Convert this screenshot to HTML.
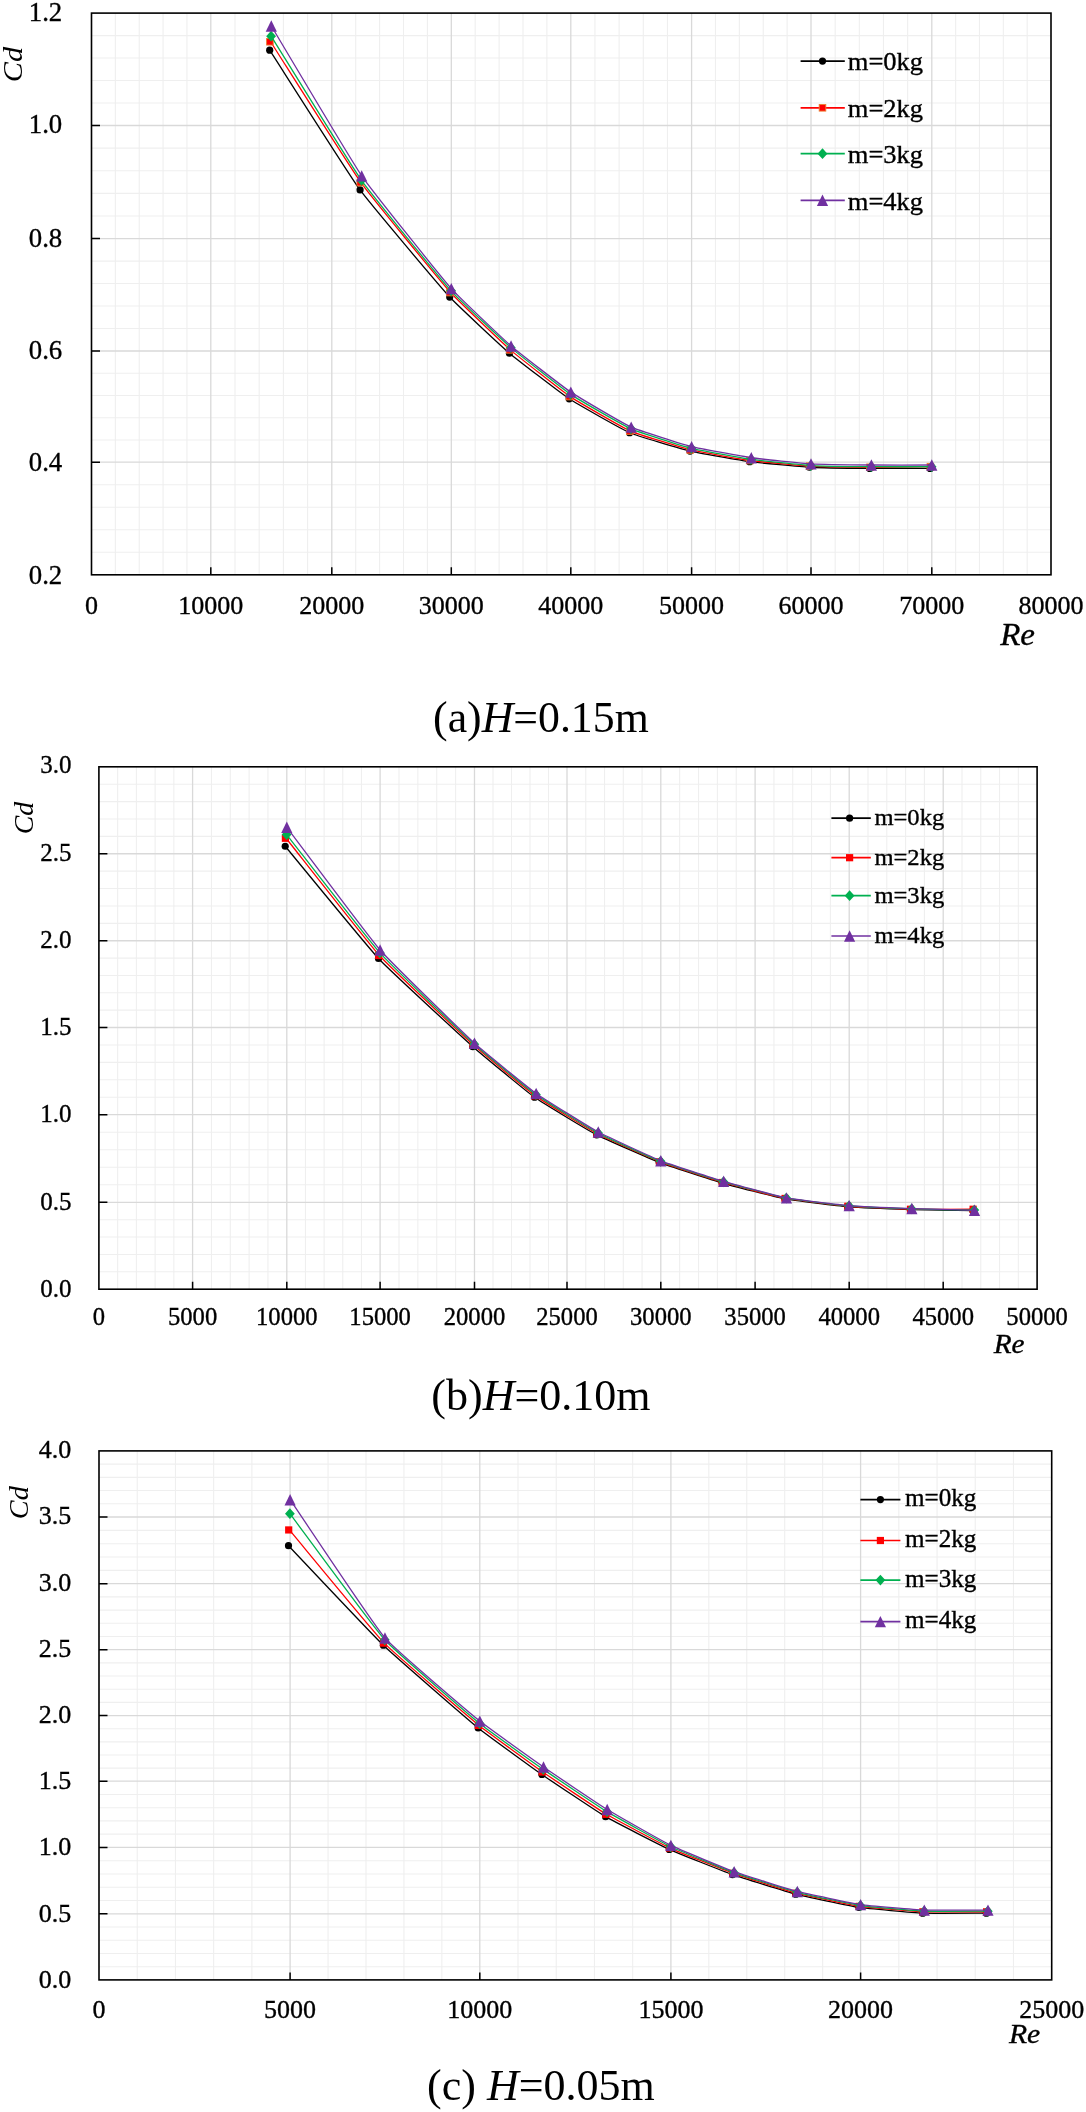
<!DOCTYPE html>
<html><head><meta charset="utf-8"><title>Cd vs Re</title>
<style>
html,body{margin:0;padding:0;background:#fff;}
body{width:1086px;height:2112px;overflow:hidden;}
svg{display:block;font-family:"Liberation Serif", serif;will-change:transform;}
</style></head><body>
<svg width="1086" height="2112" viewBox="0 0 1086 2112" fill="#000">
<style>text{stroke:#000;stroke-width:0.35px;}text.cap{stroke:none;}</style>
<rect width="1086" height="2112" fill="#fff"/>
<path d="M115.36 13.1V574.8M139.22 13.1V574.8M163.08 13.1V574.8M186.94 13.1V574.8M235 13.1V574.8M259.2 13.1V574.8M283.4 13.1V574.8M307.6 13.1V574.8M355.7 13.1V574.8M379.6 13.1V574.8M403.5 13.1V574.8M427.4 13.1V574.8M475.2 13.1V574.8M499.1 13.1V574.8M523 13.1V574.8M546.9 13.1V574.8M594.96 13.1V574.8M619.12 13.1V574.8M643.28 13.1V574.8M667.44 13.1V574.8M715.48 13.1V574.8M739.36 13.1V574.8M763.24 13.1V574.8M787.12 13.1V574.8M835.16 13.1V574.8M859.32 13.1V574.8M883.48 13.1V574.8M907.64 13.1V574.8M955.64 13.1V574.8M979.48 13.1V574.8M1003.32 13.1V574.8M1027.16 13.1V574.8M91.5 552.28H1051M91.5 529.76H1051M91.5 507.24H1051M91.5 484.72H1051M91.5 439.96H1051M91.5 417.72H1051M91.5 395.48H1051M91.5 373.24H1051M91.5 328.52H1051M91.5 306.04H1051M91.5 283.56H1051M91.5 261.08H1051M91.5 215.98H1051M91.5 193.36H1051M91.5 170.74H1051M91.5 148.12H1051M91.5 103.02H1051M91.5 80.54H1051M91.5 58.06H1051M91.5 35.58H1051" stroke="#EFEFEF" stroke-width="1.1" fill="none"/>
<path d="M210.8 13.1V574.8M331.8 13.1V574.8M451.3 13.1V574.8M570.8 13.1V574.8M691.6 13.1V574.8M811 13.1V574.8M931.8 13.1V574.8M91.5 462.2H1051M91.5 351H1051M91.5 238.6H1051M91.5 125.5H1051" stroke="#D9D9D9" stroke-width="1.3" fill="none"/>
<path d="M210.8 574.8V567.3M331.8 574.8V567.3M451.3 574.8V567.3M570.8 574.8V567.3M691.6 574.8V567.3M811 574.8V567.3M931.8 574.8V567.3M91.5 462.2H100M91.5 351H100M91.5 238.6H100M91.5 125.5H100" stroke="#000" stroke-width="1.5" fill="none"/>
<rect x="91.5" y="13.1" width="959.5" height="561.7" fill="none" stroke="#000" stroke-width="1.6"/>
<text x="62.27" y="583.81" font-size="26.8" text-anchor="end">0.2</text>
<text x="62.27" y="470.92" font-size="26.8" text-anchor="end">0.4</text>
<text x="62.27" y="359.43" font-size="26.8" text-anchor="end">0.6</text>
<text x="62.27" y="246.74" font-size="26.8" text-anchor="end">0.8</text>
<text x="62.27" y="133.35" font-size="26.8" text-anchor="end">1.0</text>
<text x="62.27" y="20.66" font-size="26.8" text-anchor="end">1.2</text>
<text x="91.5" y="613.7" font-size="26" text-anchor="middle">0</text>
<text x="210.8" y="613.7" font-size="26" text-anchor="middle">10000</text>
<text x="331.8" y="613.7" font-size="26" text-anchor="middle">20000</text>
<text x="451.3" y="613.7" font-size="26" text-anchor="middle">30000</text>
<text x="570.8" y="613.7" font-size="26" text-anchor="middle">40000</text>
<text x="691.6" y="613.7" font-size="26" text-anchor="middle">50000</text>
<text x="811" y="613.7" font-size="26" text-anchor="middle">60000</text>
<text x="931.8" y="613.7" font-size="26" text-anchor="middle">70000</text>
<text x="1051" y="613.7" font-size="26" text-anchor="middle">80000</text>
<text class="cap" transform="translate(22.32 64.52) rotate(-90) scale(1.07 1)" font-size="28.3" font-style="italic" text-anchor="middle">Cd</text>
<text transform="translate(1000.16 645) scale(1.08 1)" font-size="30.5" font-style="italic">Re</text>
<path d="M269.7 50.19C280.54 66.97 348.33 173.86 360.07 189.97C369.93 203.48 438.41 284.71 449.7 297.05C456.33 304.3 501.97 346.85 509.45 353.22C516.31 359.06 561.7 393.85 569.2 398.82C576.12 403.39 622.02 429.45 629.6 432.73C636.51 435.72 682.65 449.31 690 451.08C697.06 452.78 742.5 460.67 749.7 461.64C756.82 462.61 802.22 466.86 809.4 467.27C816.63 467.67 862.55 468.33 869.8 468.39C877.05 468.46 922.95 468.39 930.2 468.39" stroke="#000000" stroke-width="1.3" fill="none" stroke-linejoin="round"/>
<circle cx="269.7" cy="50.19" r="3.6" fill="#000"/>
<circle cx="360.07" cy="189.97" r="3.6" fill="#000"/>
<circle cx="449.7" cy="297.05" r="3.6" fill="#000"/>
<circle cx="509.45" cy="353.22" r="3.6" fill="#000"/>
<circle cx="569.2" cy="398.82" r="3.6" fill="#000"/>
<circle cx="629.6" cy="432.73" r="3.6" fill="#000"/>
<circle cx="690" cy="451.08" r="3.6" fill="#000"/>
<circle cx="749.7" cy="461.64" r="3.6" fill="#000"/>
<circle cx="809.4" cy="467.27" r="3.6" fill="#000"/>
<circle cx="869.8" cy="468.39" r="3.6" fill="#000"/>
<circle cx="930.2" cy="468.39" r="3.6" fill="#000"/>
<path d="M270.6 41.76C281.45 58.66 349.28 166.33 360.98 182.62C370.88 196.42 439.28 279.88 450.6 292.55C457.21 299.95 502.87 343.36 510.35 349.88C517.21 355.84 562.58 391.51 570.1 396.59C577 401.25 622.91 427.71 630.5 431.06C637.41 434.12 683.54 448.16 690.9 449.97C697.95 451.7 743.4 459.56 750.6 460.53C757.72 461.5 803.12 465.74 810.3 466.14C817.53 466.55 863.45 467.23 870.7 467.27C877.95 467.3 923.85 466.77 931.1 466.7" stroke="#FF0000" stroke-width="1.3" fill="none" stroke-linejoin="round"/>
<rect x="266.6" y="38.46" width="6.6" height="6.6" fill="#FF0000" stroke="#ED7D31" stroke-width="0.9"/>
<rect x="356.98" y="179.32" width="6.6" height="6.6" fill="#FF0000" stroke="#ED7D31" stroke-width="0.9"/>
<rect x="446.6" y="289.25" width="6.6" height="6.6" fill="#FF0000" stroke="#ED7D31" stroke-width="0.9"/>
<rect x="506.35" y="346.58" width="6.6" height="6.6" fill="#FF0000" stroke="#ED7D31" stroke-width="0.9"/>
<rect x="566.1" y="393.29" width="6.6" height="6.6" fill="#FF0000" stroke="#ED7D31" stroke-width="0.9"/>
<rect x="626.5" y="427.76" width="6.6" height="6.6" fill="#FF0000" stroke="#ED7D31" stroke-width="0.9"/>
<rect x="686.9" y="446.67" width="6.6" height="6.6" fill="#FF0000" stroke="#ED7D31" stroke-width="0.9"/>
<rect x="746.6" y="457.23" width="6.6" height="6.6" fill="#FF0000" stroke="#ED7D31" stroke-width="0.9"/>
<rect x="806.3" y="462.84" width="6.6" height="6.6" fill="#FF0000" stroke="#ED7D31" stroke-width="0.9"/>
<rect x="866.7" y="463.97" width="6.6" height="6.6" fill="#FF0000" stroke="#ED7D31" stroke-width="0.9"/>
<rect x="927.1" y="463.4" width="6.6" height="6.6" fill="#FF0000" stroke="#ED7D31" stroke-width="0.9"/>
<path d="M271.1 36.14C281.95 53.45 349.71 163.71 361.48 180.35C371.31 194.27 439.75 278.16 451.1 290.87C457.67 298.23 503.38 341.16 510.85 347.63C517.72 353.58 563.08 389.28 570.6 394.37C577.5 399.03 623.42 425.46 631 428.84C637.92 431.93 684.04 446.42 691.4 448.3C698.45 450.09 743.89 458.38 751.1 459.42C758.22 460.45 803.62 465.14 810.8 465.58C818.03 466.02 863.95 466.64 871.2 466.7C878.45 466.77 924.35 466.7 931.6 466.7" stroke="#00B050" stroke-width="1.3" fill="none" stroke-linejoin="round"/>
<path d="M271.1 30.74L276 36.14L271.1 41.54L266.2 36.14Z" fill="#00B050"/>
<path d="M361.48 174.95L366.38 180.35L361.48 185.75L356.58 180.35Z" fill="#00B050"/>
<path d="M451.1 285.47L456 290.87L451.1 296.27L446.2 290.87Z" fill="#00B050"/>
<path d="M510.85 342.23L515.75 347.63L510.85 353.03L505.95 347.63Z" fill="#00B050"/>
<path d="M570.6 388.97L575.5 394.37L570.6 399.77L565.7 394.37Z" fill="#00B050"/>
<path d="M631 423.44L635.9 428.84L631 434.24L626.1 428.84Z" fill="#00B050"/>
<path d="M691.4 442.9L696.3 448.3L691.4 453.7L686.5 448.3Z" fill="#00B050"/>
<path d="M751.1 454.02L756 459.42L751.1 464.82L746.2 459.42Z" fill="#00B050"/>
<path d="M810.8 460.18L815.7 465.58L810.8 470.98L805.9 465.58Z" fill="#00B050"/>
<path d="M871.2 461.3L876.1 466.7L871.2 472.1L866.3 466.7Z" fill="#00B050"/>
<path d="M931.6 461.3L936.5 466.7L931.6 472.1L926.7 466.7Z" fill="#00B050"/>
<path d="M271.3 26.03C282.14 44 349.83 158.55 361.68 175.83C371.43 190.06 439.92 275.66 451.3 288.62C457.84 296.07 503.55 339.45 511.05 345.94C517.89 351.87 563.31 387.08 570.8 392.14C577.73 396.83 623.61 423.75 631.2 427.17C638.1 430.29 684.24 444.76 691.6 446.63C698.65 448.43 744.09 456.71 751.3 457.75C758.42 458.78 803.82 463.45 811 463.89C818.23 464.33 864.15 464.95 871.4 465.01C878.65 465.08 924.55 465.01 931.8 465.01" stroke="#7030A0" stroke-width="1.3" fill="none" stroke-linejoin="round"/>
<path d="M271.3 20.33L276.9 31.73L265.7 31.73Z" fill="#7030A0"/>
<path d="M361.68 170.13L367.28 181.53L356.07 181.53Z" fill="#7030A0"/>
<path d="M451.3 282.92L456.9 294.32L445.7 294.32Z" fill="#7030A0"/>
<path d="M511.05 340.24L516.65 351.64L505.45 351.64Z" fill="#7030A0"/>
<path d="M570.8 386.44L576.4 397.84L565.2 397.84Z" fill="#7030A0"/>
<path d="M631.2 421.47L636.8 432.87L625.6 432.87Z" fill="#7030A0"/>
<path d="M691.6 440.93L697.2 452.33L686 452.33Z" fill="#7030A0"/>
<path d="M751.3 452.05L756.9 463.45L745.7 463.45Z" fill="#7030A0"/>
<path d="M811 458.19L816.6 469.59L805.4 469.59Z" fill="#7030A0"/>
<path d="M871.4 459.31L877 470.71L865.8 470.71Z" fill="#7030A0"/>
<path d="M931.8 459.31L937.4 470.71L926.2 470.71Z" fill="#7030A0"/>
<path d="M800.6 61.1H844.8" stroke="#000000" stroke-width="1.7"/>
<circle cx="822.5" cy="61.1" r="3.6" fill="#000"/>
<text transform="translate(847.77 70.3) scale(1.02 1)" font-size="26">m=0kg</text>
<path d="M800.6 107.8H844.8" stroke="#FF0000" stroke-width="1.7"/>
<rect x="819.2" y="104.5" width="6.6" height="6.6" fill="#FF0000" stroke="#ED7D31" stroke-width="0.9"/>
<text transform="translate(847.77 117) scale(1.02 1)" font-size="26">m=2kg</text>
<path d="M800.6 153.7H844.8" stroke="#00B050" stroke-width="1.7"/>
<path d="M822.5 148.3L827.4 153.7L822.5 159.1L817.6 153.7Z" fill="#00B050"/>
<text transform="translate(847.77 162.9) scale(1.02 1)" font-size="26">m=3kg</text>
<path d="M800.6 200.3H844.8" stroke="#7030A0" stroke-width="1.7"/>
<path d="M822.5 194.6L828.1 206L816.9 206Z" fill="#7030A0"/>
<text transform="translate(847.77 209.5) scale(1.02 1)" font-size="26">m=4kg</text>
<text class="cap" x="540.9" y="731.5" font-size="43.8" text-anchor="middle" xml:space="preserve">(a)<tspan font-style="italic">H</tspan>=0.15m</text>
<path d="M117.64 766.8V1289.2M136.38 766.8V1289.2M155.12 766.8V1289.2M173.86 766.8V1289.2M211.44 766.8V1289.2M230.28 766.8V1289.2M249.12 766.8V1289.2M267.96 766.8V1289.2M305.46 766.8V1289.2M324.12 766.8V1289.2M342.78 766.8V1289.2M361.44 766.8V1289.2M398.98 766.8V1289.2M417.86 766.8V1289.2M436.74 766.8V1289.2M455.62 766.8V1289.2M493 766.8V1289.2M511.5 766.8V1289.2M530 766.8V1289.2M548.5 766.8V1289.2M585.76 766.8V1289.2M604.52 766.8V1289.2M623.28 766.8V1289.2M642.04 766.8V1289.2M679.66 766.8V1289.2M698.52 766.8V1289.2M717.38 766.8V1289.2M736.24 766.8V1289.2M773.92 766.8V1289.2M792.74 766.8V1289.2M811.56 766.8V1289.2M830.38 766.8V1289.2M868 766.8V1289.2M886.8 766.8V1289.2M905.6 766.8V1289.2M924.4 766.8V1289.2M961.98 766.8V1289.2M980.76 766.8V1289.2M999.54 766.8V1289.2M1018.32 766.8V1289.2M98.9 1271.82H1037.1M98.9 1254.44H1037.1M98.9 1237.06H1037.1M98.9 1219.68H1037.1M98.9 1184.78H1037.1M98.9 1167.26H1037.1M98.9 1149.74H1037.1M98.9 1132.22H1037.1M98.9 1097.26H1037.1M98.9 1079.82H1037.1M98.9 1062.38H1037.1M98.9 1044.94H1037.1M98.9 1010.15H1037.1M98.9 992.8H1037.1M98.9 975.45H1037.1M98.9 958.1H1037.1M98.9 923.35H1037.1M98.9 905.95H1037.1M98.9 888.55H1037.1M98.9 871.15H1037.1M98.9 836.36H1037.1M98.9 818.97H1037.1M98.9 801.58H1037.1M98.9 784.19H1037.1" stroke="#EFEFEF" stroke-width="1.1" fill="none"/>
<path d="M192.6 766.8V1289.2M286.8 766.8V1289.2M380.1 766.8V1289.2M474.5 766.8V1289.2M567 766.8V1289.2M660.8 766.8V1289.2M755.1 766.8V1289.2M849.2 766.8V1289.2M943.2 766.8V1289.2M98.9 1202.3H1037.1M98.9 1114.7H1037.1M98.9 1027.5H1037.1M98.9 940.75H1037.1M98.9 853.75H1037.1" stroke="#D9D9D9" stroke-width="1.3" fill="none"/>
<path d="M192.6 1289.2V1281.7M286.8 1289.2V1281.7M380.1 1289.2V1281.7M474.5 1289.2V1281.7M567 1289.2V1281.7M660.8 1289.2V1281.7M755.1 1289.2V1281.7M849.2 1289.2V1281.7M943.2 1289.2V1281.7M98.9 1202.3H107.4M98.9 1114.7H107.4M98.9 1027.5H107.4M98.9 940.75H107.4M98.9 853.75H107.4" stroke="#000" stroke-width="1.5" fill="none"/>
<rect x="98.9" y="766.8" width="938.2" height="522.4" fill="none" stroke="#000" stroke-width="1.6"/>
<text transform="translate(71.6 1296.88) scale(0.98 1)" font-size="25.5" text-anchor="end">0.0</text>
<text transform="translate(71.6 1209.8) scale(0.98 1)" font-size="25.5" text-anchor="end">0.5</text>
<text transform="translate(71.6 1122.03) scale(0.98 1)" font-size="25.5" text-anchor="end">1.0</text>
<text transform="translate(71.6 1034.65) scale(0.98 1)" font-size="25.5" text-anchor="end">1.5</text>
<text transform="translate(71.6 947.73) scale(0.98 1)" font-size="25.5" text-anchor="end">2.0</text>
<text transform="translate(71.6 860.55) scale(0.98 1)" font-size="25.5" text-anchor="end">2.5</text>
<text transform="translate(71.6 773.43) scale(0.98 1)" font-size="25.5" text-anchor="end">3.0</text>
<text x="98.9" y="1324.5" font-size="24.6" text-anchor="middle">0</text>
<text x="192.6" y="1324.5" font-size="24.6" text-anchor="middle">5000</text>
<text x="286.8" y="1324.5" font-size="24.6" text-anchor="middle">10000</text>
<text x="380.1" y="1324.5" font-size="24.6" text-anchor="middle">15000</text>
<text x="474.5" y="1324.5" font-size="24.6" text-anchor="middle">20000</text>
<text x="567" y="1324.5" font-size="24.6" text-anchor="middle">25000</text>
<text x="660.8" y="1324.5" font-size="24.6" text-anchor="middle">30000</text>
<text x="755.1" y="1324.5" font-size="24.6" text-anchor="middle">35000</text>
<text x="849.2" y="1324.5" font-size="24.6" text-anchor="middle">40000</text>
<text x="943.2" y="1324.5" font-size="24.6" text-anchor="middle">45000</text>
<text x="1037.1" y="1324.5" font-size="24.6" text-anchor="middle">50000</text>
<text class="cap" transform="translate(32.94 818.15) rotate(-90) scale(1.05 1)" font-size="26.4" font-style="italic" text-anchor="middle">Cd</text>
<text transform="translate(993.65 1353.23) scale(1.1 1)" font-size="26.6" font-style="italic">Re</text>
<path d="M285.2 846.27C296.4 859.73 366.55 945.69 378.5 958.45C389.08 969.74 461.32 1036.38 472.9 1046.68C480.05 1053.04 526.79 1091.72 534.56 1097.26C541.64 1102.3 588.97 1130.82 596.67 1134.85C603.92 1138.63 651.56 1159.42 659.2 1162.35C666.6 1165.2 714.44 1180.82 722.06 1183.03C729.52 1185.19 777.25 1197.36 784.87 1198.8C792.31 1200.2 840.05 1205.99 847.6 1206.64C855.09 1207.29 902.74 1209.36 910.26 1209.6C917.77 1209.84 965.39 1210.52 972.91 1210.64" stroke="#000000" stroke-width="1.3" fill="none" stroke-linejoin="round"/>
<circle cx="285.2" cy="846.27" r="3.6" fill="#000"/>
<circle cx="378.5" cy="958.45" r="3.6" fill="#000"/>
<circle cx="472.9" cy="1046.68" r="3.6" fill="#000"/>
<circle cx="534.56" cy="1097.26" r="3.6" fill="#000"/>
<circle cx="596.67" cy="1134.85" r="3.6" fill="#000"/>
<circle cx="659.2" cy="1162.35" r="3.6" fill="#000"/>
<circle cx="722.06" cy="1183.03" r="3.6" fill="#000"/>
<circle cx="784.87" cy="1198.8" r="3.6" fill="#000"/>
<circle cx="847.6" cy="1206.64" r="3.6" fill="#000"/>
<circle cx="910.26" cy="1209.6" r="3.6" fill="#000"/>
<circle cx="972.91" cy="1210.64" r="3.6" fill="#000"/>
<path d="M286.1 838.27C297.3 852.34 367.35 942.21 379.4 955.5C389.88 967.05 462.18 1034.84 473.8 1045.29C480.91 1051.68 527.7 1090.3 535.46 1095.86C542.55 1100.95 589.86 1129.89 597.57 1133.97C604.82 1137.81 652.45 1158.87 660.1 1161.83C667.5 1164.69 715.34 1180.28 722.96 1182.5C730.42 1184.68 778.15 1197 785.77 1198.45C793.21 1199.86 840.95 1205.65 848.5 1206.3C855.99 1206.94 903.64 1209.07 911.16 1209.25C918.67 1209.43 966.29 1209.25 973.81 1209.25" stroke="#FF0000" stroke-width="1.3" fill="none" stroke-linejoin="round"/>
<rect x="281.8" y="834.67" width="7.2" height="7.2" fill="#FF0000"/>
<rect x="375.1" y="951.9" width="7.2" height="7.2" fill="#FF0000"/>
<rect x="469.5" y="1041.69" width="7.2" height="7.2" fill="#FF0000"/>
<rect x="531.16" y="1092.26" width="7.2" height="7.2" fill="#FF0000"/>
<rect x="593.27" y="1130.37" width="7.2" height="7.2" fill="#FF0000"/>
<rect x="655.8" y="1158.23" width="7.2" height="7.2" fill="#FF0000"/>
<rect x="718.66" y="1178.9" width="7.2" height="7.2" fill="#FF0000"/>
<rect x="781.47" y="1194.85" width="7.2" height="7.2" fill="#FF0000"/>
<rect x="844.2" y="1202.7" width="7.2" height="7.2" fill="#FF0000"/>
<rect x="906.86" y="1205.65" width="7.2" height="7.2" fill="#FF0000"/>
<rect x="969.51" y="1205.65" width="7.2" height="7.2" fill="#FF0000"/>
<path d="M286.6 834.62C297.8 848.81 367.87 939.46 379.9 952.89C390.39 964.61 462.64 1033.65 474.3 1044.24C481.37 1050.66 528.21 1089.08 535.96 1094.64C543.07 1099.75 590.36 1128.97 598.07 1133.1C605.32 1136.97 652.94 1158.33 660.6 1161.3C667.98 1164.17 715.85 1179.57 723.46 1181.8C730.93 1183.99 778.64 1196.63 786.27 1198.1C793.71 1199.53 841.45 1205.3 849 1205.95C856.49 1206.6 904.14 1208.65 911.66 1208.9C919.17 1209.15 966.79 1209.98 974.31 1210.12" stroke="#00B050" stroke-width="1.3" fill="none" stroke-linejoin="round"/>
<path d="M286.6 829.22L291.5 834.62L286.6 840.02L281.7 834.62Z" fill="#00B050"/>
<path d="M379.9 947.5L384.8 952.89L379.9 958.29L375 952.89Z" fill="#00B050"/>
<path d="M474.3 1038.84L479.2 1044.24L474.3 1049.64L469.4 1044.24Z" fill="#00B050"/>
<path d="M535.96 1089.24L540.86 1094.64L535.96 1100.04L531.06 1094.64Z" fill="#00B050"/>
<path d="M598.07 1127.7L602.97 1133.1L598.07 1138.5L593.17 1133.1Z" fill="#00B050"/>
<path d="M660.6 1155.9L665.5 1161.3L660.6 1166.7L655.7 1161.3Z" fill="#00B050"/>
<path d="M723.46 1176.4L728.36 1181.8L723.46 1187.2L718.56 1181.8Z" fill="#00B050"/>
<path d="M786.27 1192.7L791.17 1198.1L786.27 1203.5L781.37 1198.1Z" fill="#00B050"/>
<path d="M849 1200.55L853.9 1205.95L849 1211.35L844.1 1205.95Z" fill="#00B050"/>
<path d="M911.66 1203.5L916.56 1208.9L911.66 1214.3L906.76 1208.9Z" fill="#00B050"/>
<path d="M974.31 1204.72L979.21 1210.12L974.31 1215.52L969.41 1210.12Z" fill="#00B050"/>
<path d="M286.8 827.32C298 842.03 368 936.03 380.1 949.95C390.52 961.93 462.79 1032.43 474.5 1043.2C481.52 1049.65 528.42 1087.87 536.16 1093.42C543.28 1098.53 590.57 1127.88 598.27 1132.04C605.52 1135.96 653.13 1157.76 660.8 1160.78C668.17 1163.67 716.05 1179.03 723.66 1181.28C731.14 1183.49 778.84 1196.44 786.47 1197.92C793.9 1199.36 841.65 1204.96 849.2 1205.6C856.7 1206.24 904.34 1208.28 911.86 1208.56C919.38 1208.84 966.99 1210.09 974.51 1210.29" stroke="#7030A0" stroke-width="1.3" fill="none" stroke-linejoin="round"/>
<path d="M286.8 821.62L292.4 833.02L281.2 833.02Z" fill="#7030A0"/>
<path d="M380.1 944.25L385.7 955.65L374.5 955.65Z" fill="#7030A0"/>
<path d="M474.5 1037.5L480.1 1048.9L468.9 1048.9Z" fill="#7030A0"/>
<path d="M536.16 1087.72L541.76 1099.12L530.56 1099.12Z" fill="#7030A0"/>
<path d="M598.27 1126.34L603.87 1137.74L592.67 1137.74Z" fill="#7030A0"/>
<path d="M660.8 1155.08L666.4 1166.48L655.2 1166.48Z" fill="#7030A0"/>
<path d="M723.66 1175.58L729.26 1186.98L718.06 1186.98Z" fill="#7030A0"/>
<path d="M786.47 1192.22L792.07 1203.62L780.87 1203.62Z" fill="#7030A0"/>
<path d="M849.2 1199.9L854.8 1211.3L843.6 1211.3Z" fill="#7030A0"/>
<path d="M911.86 1202.86L917.46 1214.26L906.26 1214.26Z" fill="#7030A0"/>
<path d="M974.51 1204.59L980.11 1215.99L968.91 1215.99Z" fill="#7030A0"/>
<path d="M831.4 818.2H870.8" stroke="#000000" stroke-width="1.7"/>
<circle cx="849.6" cy="818.2" r="3.6" fill="#000"/>
<text transform="translate(874.41 825.3) scale(1.02 1)" font-size="24.1">m=0kg</text>
<path d="M831.4 857.7H870.8" stroke="#FF0000" stroke-width="1.7"/>
<rect x="846" y="854.1" width="7.2" height="7.2" fill="#FF0000"/>
<text transform="translate(874.41 864.8) scale(1.02 1)" font-size="24.1">m=2kg</text>
<path d="M831.4 895.7H870.8" stroke="#00B050" stroke-width="1.7"/>
<path d="M849.6 890.3L854.5 895.7L849.6 901.1L844.7 895.7Z" fill="#00B050"/>
<text transform="translate(874.41 902.8) scale(1.02 1)" font-size="24.1">m=3kg</text>
<path d="M831.4 936H870.8" stroke="#7030A0" stroke-width="1.7"/>
<path d="M849.6 930.3L855.2 941.7L844 941.7Z" fill="#7030A0"/>
<text transform="translate(874.41 943.1) scale(1.02 1)" font-size="24.1">m=4kg</text>
<text class="cap" x="540.9" y="1409.7" font-size="44" text-anchor="middle" xml:space="preserve">(b)<tspan font-style="italic">H</tspan>=0.10m</text>
<path d="M137.22 1450.9V1979.9M175.44 1450.9V1979.9M213.66 1450.9V1979.9M251.88 1450.9V1979.9M328.04 1450.9V1979.9M365.98 1450.9V1979.9M403.92 1450.9V1979.9M441.86 1450.9V1979.9M518.02 1450.9V1979.9M556.24 1450.9V1979.9M594.46 1450.9V1979.9M632.68 1450.9V1979.9M708.84 1450.9V1979.9M746.78 1450.9V1979.9M784.72 1450.9V1979.9M822.66 1450.9V1979.9M898.82 1450.9V1979.9M937.04 1450.9V1979.9M975.26 1450.9V1979.9M1013.48 1450.9V1979.9M99 1966.68H1051.7M99 1953.46H1051.7M99 1940.24H1051.7M99 1927.02H1051.7M99 1900.52H1051.7M99 1887.24H1051.7M99 1873.96H1051.7M99 1860.68H1051.7M99 1834.16H1051.7M99 1820.92H1051.7M99 1807.68H1051.7M99 1794.44H1051.7M99 1768.08H1051.7M99 1754.96H1051.7M99 1741.84H1051.7M99 1728.72H1051.7M99 1702.42H1051.7M99 1689.24H1051.7M99 1676.06H1051.7M99 1662.88H1051.7M99 1636.5H1051.7M99 1623.3H1051.7M99 1610.1H1051.7M99 1596.9H1051.7M99 1570.36H1051.7M99 1557.02H1051.7M99 1543.68H1051.7M99 1530.34H1051.7M99 1503.78H1051.7M99 1490.56H1051.7M99 1477.34H1051.7M99 1464.12H1051.7" stroke="#EFEFEF" stroke-width="1.1" fill="none"/>
<path d="M290.1 1450.9V1979.9M479.8 1450.9V1979.9M670.9 1450.9V1979.9M860.6 1450.9V1979.9M99 1913.8H1051.7M99 1847.4H1051.7M99 1781.2H1051.7M99 1715.6H1051.7M99 1649.7H1051.7M99 1583.7H1051.7M99 1517H1051.7" stroke="#D9D9D9" stroke-width="1.3" fill="none"/>
<path d="M290.1 1979.9V1972.4M479.8 1979.9V1972.4M670.9 1979.9V1972.4M860.6 1979.9V1972.4M99 1913.8H107.5M99 1847.4H107.5M99 1781.2H107.5M99 1715.6H107.5M99 1649.7H107.5M99 1583.7H107.5M99 1517H107.5" stroke="#000" stroke-width="1.5" fill="none"/>
<rect x="99" y="1450.9" width="952.7" height="529" fill="none" stroke="#000" stroke-width="1.6"/>
<text x="71.24" y="1988.2" font-size="26" text-anchor="end">0.0</text>
<text x="71.24" y="1921.91" font-size="26" text-anchor="end">0.5</text>
<text x="71.24" y="1855.33" font-size="26" text-anchor="end">1.0</text>
<text x="71.24" y="1788.95" font-size="26" text-anchor="end">1.5</text>
<text x="71.24" y="1723.17" font-size="26" text-anchor="end">2.0</text>
<text x="71.24" y="1657.09" font-size="26" text-anchor="end">2.5</text>
<text x="71.24" y="1590.91" font-size="26" text-anchor="end">3.0</text>
<text x="71.24" y="1524.03" font-size="26" text-anchor="end">3.5</text>
<text x="71.24" y="1457.75" font-size="26" text-anchor="end">4.0</text>
<text x="99" y="2017.5" font-size="26" text-anchor="middle">0</text>
<text x="290.1" y="2017.5" font-size="26" text-anchor="middle">5000</text>
<text x="479.8" y="2017.5" font-size="26" text-anchor="middle">10000</text>
<text x="670.9" y="2017.5" font-size="26" text-anchor="middle">15000</text>
<text x="860.6" y="2017.5" font-size="26" text-anchor="middle">20000</text>
<text x="1051.7" y="2017.5" font-size="26" text-anchor="middle">25000</text>
<text class="cap" transform="translate(28.42 1502.71) rotate(-90) scale(1.02 1)" font-size="27.7" font-style="italic" text-anchor="middle">Cd</text>
<text transform="translate(1008.95 2043.03) scale(1.1 1)" font-size="27" font-style="italic">Re</text>
<path d="M288.5 1545.68C299.88 1557.62 371.47 1633.79 383.35 1645.21C394.23 1655.66 466.51 1718.4 478.2 1727.93C485.53 1733.91 534.14 1769.1 541.91 1774.51C549.43 1779.75 597.7 1812.05 605.59 1816.68C612.98 1821.03 661.49 1845.83 669.3 1849.39C676.73 1852.78 724.85 1871.9 732.55 1874.62C740.02 1877.27 788.08 1892.15 795.75 1894.15C803.25 1896.09 851.34 1906.28 859 1907.43C866.58 1908.56 915.05 1912.79 922.71 1913.14C930.34 1913.48 978.75 1913.14 986.39 1913.14" stroke="#000000" stroke-width="1.3" fill="none" stroke-linejoin="round"/>
<circle cx="288.5" cy="1545.68" r="3.6" fill="#000"/>
<circle cx="383.35" cy="1645.21" r="3.6" fill="#000"/>
<circle cx="478.2" cy="1727.93" r="3.6" fill="#000"/>
<circle cx="541.91" cy="1774.51" r="3.6" fill="#000"/>
<circle cx="605.59" cy="1816.68" r="3.6" fill="#000"/>
<circle cx="669.3" cy="1849.39" r="3.6" fill="#000"/>
<circle cx="732.55" cy="1874.62" r="3.6" fill="#000"/>
<circle cx="795.75" cy="1894.15" r="3.6" fill="#000"/>
<circle cx="859" cy="1907.43" r="3.6" fill="#000"/>
<circle cx="922.71" cy="1913.14" r="3.6" fill="#000"/>
<circle cx="986.39" cy="1913.14" r="3.6" fill="#000"/>
<path d="M289.4 1529.94C300.78 1543.52 371.95 1630.42 384.25 1643.1C394.71 1653.88 467.41 1715.94 479.1 1725.44C486.44 1731.41 535.05 1766.6 542.81 1772.02C550.33 1777.26 598.62 1809.6 606.49 1814.3C613.91 1818.73 662.36 1844.42 670.2 1848.06C677.6 1851.5 725.76 1870.55 733.45 1873.3C740.93 1875.97 788.97 1891.21 796.65 1893.22C804.14 1895.17 852.24 1905.24 859.9 1906.36C867.48 1907.47 915.95 1911.48 923.61 1911.81C931.24 1912.13 979.65 1911.81 987.29 1911.81" stroke="#FF0000" stroke-width="1.3" fill="none" stroke-linejoin="round"/>
<rect x="285.1" y="1526.34" width="7.2" height="7.2" fill="#FF0000"/>
<rect x="379.95" y="1639.5" width="7.2" height="7.2" fill="#FF0000"/>
<rect x="474.8" y="1721.84" width="7.2" height="7.2" fill="#FF0000"/>
<rect x="538.51" y="1768.42" width="7.2" height="7.2" fill="#FF0000"/>
<rect x="602.19" y="1810.7" width="7.2" height="7.2" fill="#FF0000"/>
<rect x="665.9" y="1844.46" width="7.2" height="7.2" fill="#FF0000"/>
<rect x="729.15" y="1869.7" width="7.2" height="7.2" fill="#FF0000"/>
<rect x="792.35" y="1889.62" width="7.2" height="7.2" fill="#FF0000"/>
<rect x="855.6" y="1902.76" width="7.2" height="7.2" fill="#FF0000"/>
<rect x="919.31" y="1908.21" width="7.2" height="7.2" fill="#FF0000"/>
<rect x="982.99" y="1908.21" width="7.2" height="7.2" fill="#FF0000"/>
<path d="M289.9 1513.69C301.28 1528.83 372.11 1625.83 384.75 1639.8C394.88 1651 467.86 1713.88 479.6 1723.47C486.89 1729.43 535.57 1764.03 543.31 1769.39C550.85 1774.61 599.16 1806.9 606.99 1811.65C614.44 1816.18 662.85 1842.97 670.7 1846.74C678.08 1850.28 726.24 1869.86 733.95 1872.63C741.41 1875.32 789.48 1890.29 797.15 1892.29C804.65 1894.24 852.74 1904.43 860.4 1905.57C867.98 1906.69 916.45 1910.81 924.11 1911.14C931.74 1911.48 980.15 1911.14 987.79 1911.14" stroke="#00B050" stroke-width="1.3" fill="none" stroke-linejoin="round"/>
<path d="M289.9 1508.29L294.8 1513.69L289.9 1519.1L285 1513.69Z" fill="#00B050"/>
<path d="M384.75 1634.4L389.65 1639.8L384.75 1645.2L379.85 1639.8Z" fill="#00B050"/>
<path d="M479.6 1718.07L484.5 1723.47L479.6 1728.87L474.7 1723.47Z" fill="#00B050"/>
<path d="M543.31 1763.99L548.21 1769.39L543.31 1774.79L538.41 1769.39Z" fill="#00B050"/>
<path d="M606.99 1806.25L611.89 1811.65L606.99 1817.05L602.09 1811.65Z" fill="#00B050"/>
<path d="M670.7 1841.34L675.6 1846.74L670.7 1852.14L665.8 1846.74Z" fill="#00B050"/>
<path d="M733.95 1867.23L738.85 1872.63L733.95 1878.03L729.05 1872.63Z" fill="#00B050"/>
<path d="M797.15 1886.89L802.05 1892.29L797.15 1897.69L792.25 1892.29Z" fill="#00B050"/>
<path d="M860.4 1900.17L865.3 1905.57L860.4 1910.97L855.5 1905.57Z" fill="#00B050"/>
<path d="M924.11 1905.74L929.01 1911.14L924.11 1916.54L919.21 1911.14Z" fill="#00B050"/>
<path d="M987.79 1905.74L992.69 1911.14L987.79 1916.54L982.89 1911.14Z" fill="#00B050"/>
<path d="M290.1 1499.68C301.48 1516.27 371.96 1622.79 384.95 1637.95C394.72 1649.36 468.07 1711.56 479.8 1721.11C487.1 1727.05 535.77 1761.66 543.51 1767.03C551.06 1772.27 599.37 1804.72 607.19 1809.53C614.66 1814.13 663.03 1841.56 670.9 1845.41C678.27 1849.02 726.43 1868.89 734.15 1871.7C741.61 1874.42 789.67 1889.49 797.35 1891.49C804.85 1893.44 852.94 1903.52 860.6 1904.64C868.18 1905.75 916.65 1909.75 924.31 1910.08C931.94 1910.41 980.35 1910.08 987.99 1910.08" stroke="#7030A0" stroke-width="1.3" fill="none" stroke-linejoin="round"/>
<path d="M290.1 1493.98L295.7 1505.38L284.5 1505.38Z" fill="#7030A0"/>
<path d="M384.95 1632.25L390.55 1643.65L379.35 1643.65Z" fill="#7030A0"/>
<path d="M479.8 1715.41L485.4 1726.81L474.2 1726.81Z" fill="#7030A0"/>
<path d="M543.51 1761.33L549.11 1772.73L537.91 1772.73Z" fill="#7030A0"/>
<path d="M607.19 1803.83L612.79 1815.23L601.59 1815.23Z" fill="#7030A0"/>
<path d="M670.9 1839.71L676.5 1851.11L665.3 1851.11Z" fill="#7030A0"/>
<path d="M734.15 1866L739.75 1877.4L728.55 1877.4Z" fill="#7030A0"/>
<path d="M797.35 1885.79L802.95 1897.19L791.75 1897.19Z" fill="#7030A0"/>
<path d="M860.6 1898.94L866.2 1910.34L855 1910.34Z" fill="#7030A0"/>
<path d="M924.31 1904.38L929.91 1915.78L918.71 1915.78Z" fill="#7030A0"/>
<path d="M987.99 1904.38L993.59 1915.78L982.39 1915.78Z" fill="#7030A0"/>
<path d="M860.4 1499.6H900.4" stroke="#000000" stroke-width="1.7"/>
<circle cx="880.4" cy="1499.6" r="3.6" fill="#000"/>
<text transform="translate(905 1506.2) scale(1.03 1)" font-size="24.4">m=0kg</text>
<path d="M860.4 1540.5H900.4" stroke="#FF0000" stroke-width="1.7"/>
<rect x="876.8" y="1536.9" width="7.2" height="7.2" fill="#FF0000"/>
<text transform="translate(905 1547.1) scale(1.03 1)" font-size="24.4">m=2kg</text>
<path d="M860.4 1580.1H900.4" stroke="#00B050" stroke-width="1.7"/>
<path d="M880.4 1574.7L885.3 1580.1L880.4 1585.5L875.5 1580.1Z" fill="#00B050"/>
<text transform="translate(905 1586.7) scale(1.03 1)" font-size="24.4">m=3kg</text>
<path d="M860.4 1621.6H900.4" stroke="#7030A0" stroke-width="1.7"/>
<path d="M880.4 1615.9L886 1627.3L874.8 1627.3Z" fill="#7030A0"/>
<text transform="translate(905 1628.2) scale(1.03 1)" font-size="24.4">m=4kg</text>
<text class="cap" x="540.9" y="2100.2" font-size="44" text-anchor="middle" xml:space="preserve">(c) <tspan font-style="italic">H</tspan>=0.05m</text>
</svg>
</body></html>
